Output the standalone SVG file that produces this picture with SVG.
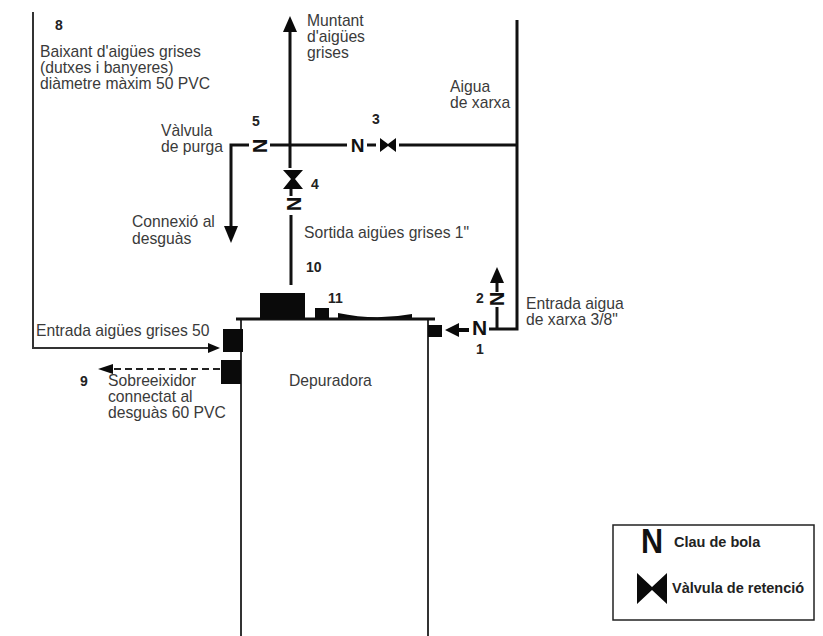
<svg xmlns="http://www.w3.org/2000/svg" width="823" height="636" viewBox="0 0 823 636">
<defs>
<style>
text{font-family:"Liberation Sans",Arial,sans-serif;font-size:15.7px;fill:#3a3a3a}
.n{font-weight:bold;font-size:14px;fill:#222}
.v{font-weight:bold;font-size:20px;fill:#111;text-anchor:middle}
.l{font-weight:bold;font-size:14.5px;fill:#222}
.p{fill:none;stroke:#111;stroke-width:3}
.t{fill:none;stroke:#333;stroke-width:2}
.k{fill:#0a0a0a}
</style>
</defs>
<rect width="823" height="636" fill="#fff"/>
<g id="connectors">
<path class="t" d="M33 12V348H212"/>
<path class="k" d="M208 343L220 348L208 353Z"/>
<path class="p" d="M290 30V168M291 189V196M291 215V285"/>
<path class="k" d="M283 32L290 16L297 32Z"/>
<path class="p" d="M270 145H347M367 145H376M399 145H518"/>
<path class="p" d="M249 145H231V228"/>
<path class="k" d="M224 226H238L231 243Z"/>
<path class="p" d="M517 20V329H489"/>
<path class="k" d="M445 330L459 323V328H469V332H459V337Z"/>
<path class="p" d="M497 328V307M497 292V282"/>
<path class="k" d="M490 283L497 267L504 283Z"/>
<path d="M220 369H113" fill="none" stroke="#222" stroke-width="2" stroke-dasharray="7 4"/>
<path class="k" d="M113 364L98 369L113 374Z"/>
<path class="k" d="M338 313Q375 321 412 314L412 318H338Z"/>
</g>
<g id="depuradora">
<path d="M241 636V319H428V636" fill="none" stroke="#333" stroke-width="2"/>
<path d="M236 319H435" fill="none" stroke="#111" stroke-width="3"/>
<rect class="k" x="260" y="293" width="45" height="26"/>
<rect class="k" x="315" y="308" width="14" height="11"/>
<rect class="k" x="428" y="325" width="14" height="12"/>
<rect class="k" x="223" y="329" width="20" height="23"/>
<rect class="k" x="221" y="360" width="20" height="24"/>
<text x="289" y="386">Depuradora</text>
</g>
<g id="valve-1"><text class="v" x="479.500" y="335" style="font-size:21px">N</text><text class="n" x="476" y="354">1</text></g>
<g id="valve-2"><text class="v" transform="translate(497,299) rotate(90)" y="7">N</text><text class="n" x="476" y="303">2</text></g>
<g id="valve-3"><text class="v" x="357.500" y="152" style="font-size:19px">N</text><path class="k" d="M380 138L388 144L396 138V152L388 146L380 152Z"/><text class="n" x="372" y="124">3</text></g>
<g id="valve-4"><path class="k" d="M283 170H303L295 179L303 189H283L291 179Z"/><text class="v" transform="translate(294,204) rotate(90)" y="7">N</text><text class="n" x="311" y="189">4</text></g>
<g id="valve-5"><text class="v" transform="translate(260,146) rotate(90)" y="7">N</text><text class="n" x="252" y="126">5</text></g>
<g id="labels">
<text class="n" x="55" y="30">8</text>
<text x="40" y="57">Baixant d'aigües grises</text>
<text x="40" y="73">(dutxes i banyeres)</text>
<text x="40" y="89">diàmetre màxim 50 PVC</text>
<text x="307" y="26">Muntant</text>
<text x="307" y="42">d'aigües</text>
<text x="307" y="58">grises</text>
<text x="450" y="92">Aigua</text>
<text x="450" y="108">de xarxa</text>
<text x="161" y="136">Vàlvula</text>
<text x="161" y="152">de purga</text>
<text x="132" y="227">Connexió al</text>
<text x="132" y="244">desguàs</text>
<text x="304" y="238">Sortida aigües grises 1"</text>
<text class="n" x="306" y="272">10</text>
<text class="n" x="328" y="303">11</text>
<text x="526" y="309">Entrada aigua</text>
<text x="526" y="325">de xarxa 3/8"</text>
<text x="36" y="336">Entrada aigües grises 50</text>
<text class="n" x="80" y="386">9</text>
<text x="108" y="386">Sobreeixidor</text>
<text x="108" y="402">connectat al</text>
<text x="108" y="418">desguàs 60 PVC</text>
</g>
<g id="legend">
<rect x="613" y="525" width="201" height="95" fill="#fff" stroke="#222" stroke-width="1.5"/>
<text transform="translate(641,553) scale(.85,1)" style="font-size:36px;font-weight:bold;fill:#111">N</text>
<text class="l" x="674" y="547">Clau de bola</text>
<path class="k" d="M637 573L652 587L667 573V604L652 590L637 604Z"/>
<text class="l" x="672" y="593">Vàlvula de retenció</text>
</g>
</svg>
